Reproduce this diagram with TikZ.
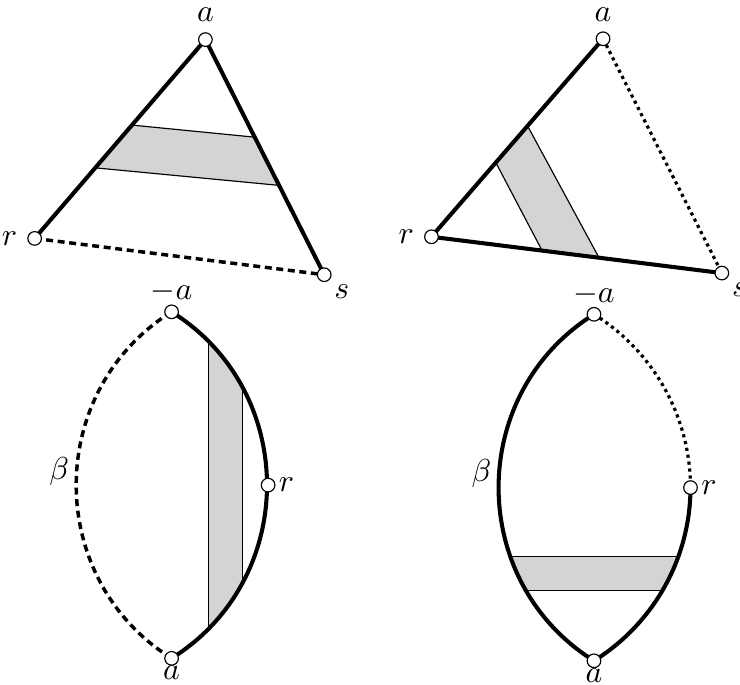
\documentclass[tikz,border=0pt]{standalone}
\usepackage{tikz}
\usetikzlibrary{calc}

\begin{document}
\begin{tikzpicture}[
		pt/.style={circle, draw, fill=white, inner sep=0pt, minimum size=1.65mm, line width=.4pt},
		edge/.style={line width=1.4pt},
		dashededge/.style={line width=1.2pt, dash pattern=on 2.4pt off 1.6pt},
		dottededge/.style={line width=1.1pt, dash pattern=on 1.1pt off 1.3pt},
		band/.style={fill=black!17, draw=black, line width=.4pt},
		every label/.style={font=\fontsize{10.5}{12.6}\selectfont},
		lbl/.style={font=\fontsize{10.5}{12.6}\selectfont, inner sep=2pt}
	]
	\useasboundingbox (0,0) rectangle (8.97,8.30);

	% top left
	\node[shape=coordinate] (a1) at (2.49,7.82) {};
	\node[shape=coordinate] (r1) at (0.42,5.41) {};
	\node[shape=coordinate] (s1) at (3.93,4.97) {};
	\filldraw[band] ($(a1)!.43!(r1)$) -- ($(a1)!.415!(s1)$) -- ($(a1)!.62!(s1)$) -- ($(a1)!.645!(r1)$) -- cycle;
	\draw[edge] (r1) -- (a1) -- (s1);
	\draw[dashededge] (r1) -- (s1);
	\node[pt, label=above:$a$] (pa1) at (a1) {};
	\node[pt, label=left:$r$] (pr1) at (r1) {};
	\node[pt, label={[inner sep=1.5pt]below right:$s$}] (ps1) at (s1) {};

	% top right
	\node[shape=coordinate] (a2) at (7.31,7.83) {};
	\node[shape=coordinate] (r2) at (5.23,5.43) {};
	\node[shape=coordinate] (s2) at (8.75,4.99) {};
	\filldraw[band] ($(a2)!.44!(r2)$) -- ($(r2)!.577!(s2)$) -- ($(r2)!.381!(s2)$) -- ($(a2)!.625!(r2)$) -- cycle;
	\draw[edge] (a2) -- (r2) -- (s2);
	\draw[dottededge] (a2) -- (s2);
	\node[pt, label=above:$a$] (pa2) at (a2) {};
	\node[pt, label=left:$r$] (pr2) at (r2) {};
	\node[pt, label={[inner sep=1.5pt]below right:$s$}] (ps2) at (s2) {};

	% bottom left
	\node[shape=coordinate] (na3) at (2.08,4.52) {};
	\node[shape=coordinate] (a3) at (2.08,0.32) {};
	\node[shape=coordinate] (r3) at (3.25,2.42) {};
	\begin{scope}
		\clip (na3) to[bend left=58, looseness=1.11] (a3) to[bend left=58, looseness=1.11] (na3);
		\filldraw[band] (2.53,0) rectangle (2.94,5);
	\end{scope}
	\draw[edge] (na3) to[bend left=58, looseness=1.11] (a3);
	\draw[dashededge] (a3) to[bend left=58, looseness=1.11] node[pos=.535, left, lbl] {$\beta$} (na3);
	\node[pt, label={[inner sep=.5pt]above:$-a$}] (pna3) at (na3) {};
	\node[pt, label={[inner sep=0pt]below:$a$}] (pa3) at (a3) {};
	\node[pt, label={[inner sep=1pt]right:$r$}] (pr3) at (r3) {};

	% bottom right
	\node[shape=coordinate] (na4) at (7.20,4.49) {};
	\node[shape=coordinate] (a4) at (7.20,0.29) {};
	\node[shape=coordinate] (r4) at (8.37,2.39) {};
	\begin{scope}
		\clip (na4) to[bend left=58, looseness=1.11] (a4) to[bend left=58, looseness=1.11] (na4);
		\filldraw[band] (5.9,1.139) rectangle (8.5,1.555);
	\end{scope}
	\draw[edge] (a4) to[bend left=58, looseness=1.11] node[pos=.535, left, lbl] {$\beta$} (na4);
	\draw[dottededge] (na4) to[bend left=29, looseness=.91] (r4);
	\draw[edge] (r4) to[bend left=29, looseness=.91] (a4);
	\node[pt, label={[inner sep=.5pt]above:$-a$}] (pna4) at (na4) {};
	\node[pt, label={[inner sep=0pt]below:$a$}] (pa4) at (a4) {};
	\node[pt, label={[inner sep=1pt]right:$r$}] (pr4) at (r4) {};
\end{tikzpicture}
\end{document}
